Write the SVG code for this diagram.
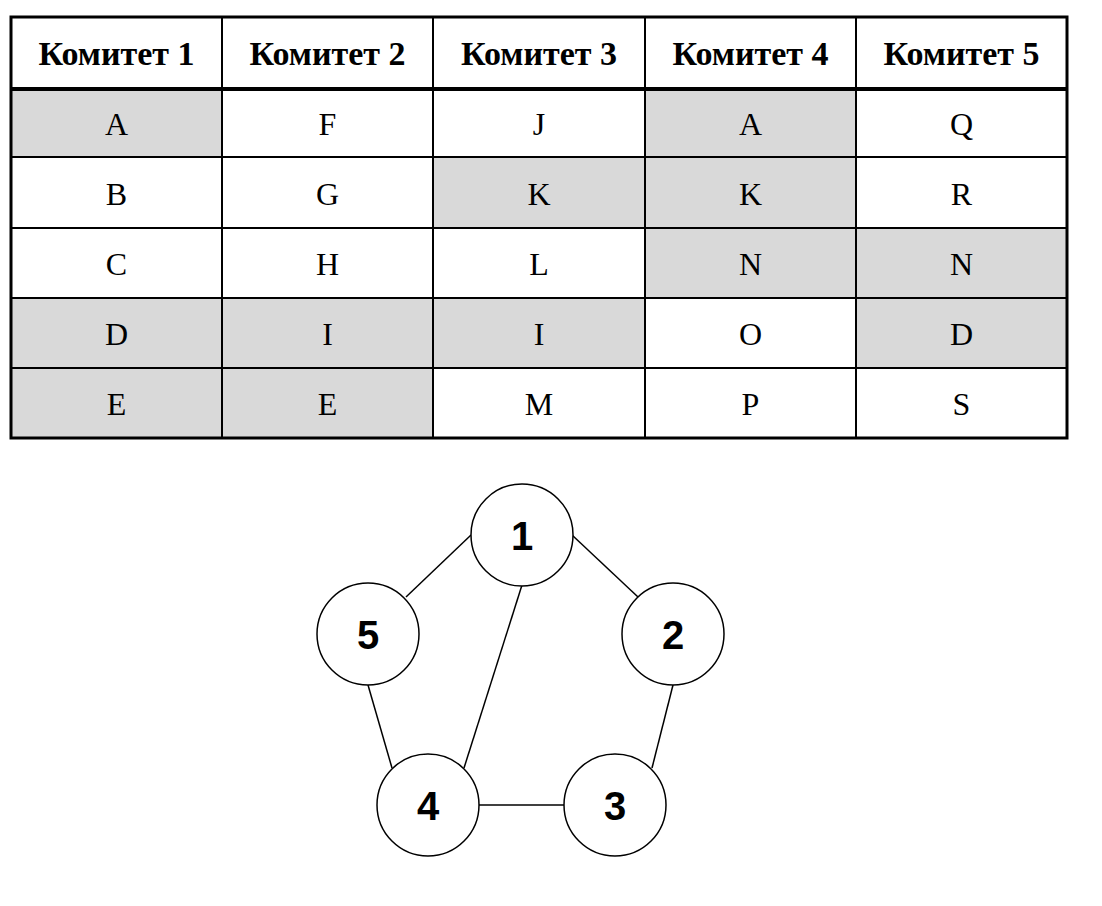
<svg xmlns="http://www.w3.org/2000/svg" width="1102" height="906" viewBox="0 0 1102 906">
<style>
.bg{fill:#ffffff}
.sh{fill:#d9d9d9}
.ln{stroke:#000;stroke-width:2;fill:none}
.hd{font-family:"Liberation Serif","Times New Roman",serif;font-weight:bold;font-size:34px;text-anchor:middle;fill:#000}
.cl{font-family:"Liberation Serif","Times New Roman",serif;font-size:32px;text-anchor:middle;fill:#000}
.nd{fill:#fff;stroke:#000;stroke-width:1.5}
.nl{font-family:"Liberation Sans",Arial,sans-serif;font-weight:bold;font-size:40px;text-anchor:middle;fill:#000}
.ed{stroke:#000;stroke-width:1.5}
</style>
<rect width="1102" height="906" class="bg"/>
<g id="table">
<g id="shading">
<rect class="sh" x="11" y="88" width="211" height="69"/>
<rect class="sh" x="645" y="88" width="211" height="69"/>
<rect class="sh" x="433" y="157" width="212" height="71"/>
<rect class="sh" x="645" y="157" width="211" height="71"/>
<rect class="sh" x="645" y="228" width="211" height="70"/>
<rect class="sh" x="856" y="228" width="211" height="70"/>
<rect class="sh" x="11" y="298" width="211" height="70"/>
<rect class="sh" x="222" y="298" width="211" height="70"/>
<rect class="sh" x="433" y="298" width="212" height="70"/>
<rect class="sh" x="856" y="298" width="211" height="70"/>
<rect class="sh" x="11" y="368" width="211" height="70"/>
<rect class="sh" x="222" y="368" width="211" height="70"/>
</g>
<g id="grid">
<line class="ln" x1="222" y1="17" x2="222" y2="438"/>
<line class="ln" x1="433" y1="17" x2="433" y2="438"/>
<line class="ln" x1="645" y1="17" x2="645" y2="438"/>
<line class="ln" x1="856" y1="17" x2="856" y2="438"/>
<line class="ln" x1="11" y1="157" x2="1067" y2="157"/>
<line class="ln" x1="11" y1="228" x2="1067" y2="228"/>
<line class="ln" x1="11" y1="298" x2="1067" y2="298"/>
<line class="ln" x1="11" y1="368" x2="1067" y2="368"/>
<line x1="11" y1="89" x2="1067" y2="89" stroke="#000" stroke-width="4"/>
<rect x="11" y="17" width="1056" height="421" fill="none" stroke="#000" stroke-width="3"/>
</g>
<g id="header">
<text class="hd" x="116.5" y="65">Комитет 1</text>
<text class="hd" x="327.5" y="65">Комитет 2</text>
<text class="hd" x="539" y="65">Комитет 3</text>
<text class="hd" x="750.5" y="65">Комитет 4</text>
<text class="hd" x="961.5" y="65">Комитет 5</text>
</g>
<g id="cells">
<text class="cl" x="116.5" y="135">A</text>
<text class="cl" x="327.5" y="135">F</text>
<text class="cl" x="539" y="135">J</text>
<text class="cl" x="750.5" y="135">A</text>
<text class="cl" x="961.5" y="135">Q</text>
<text class="cl" x="116.5" y="205">B</text>
<text class="cl" x="327.5" y="205">G</text>
<text class="cl" x="539" y="205">K</text>
<text class="cl" x="750.5" y="205">K</text>
<text class="cl" x="961.5" y="205">R</text>
<text class="cl" x="116.5" y="275">C</text>
<text class="cl" x="327.5" y="275">H</text>
<text class="cl" x="539" y="275">L</text>
<text class="cl" x="750.5" y="275">N</text>
<text class="cl" x="961.5" y="275">N</text>
<text class="cl" x="116.5" y="345">D</text>
<text class="cl" x="327.5" y="345">I</text>
<text class="cl" x="539" y="345">I</text>
<text class="cl" x="750.5" y="345">O</text>
<text class="cl" x="961.5" y="345">D</text>
<text class="cl" x="116.5" y="415">E</text>
<text class="cl" x="327.5" y="415">E</text>
<text class="cl" x="539" y="415">M</text>
<text class="cl" x="750.5" y="415">P</text>
<text class="cl" x="961.5" y="415">S</text>
</g>
</g>
<g id="connectors">
<line class="ed" x1="471" y1="535" x2="406" y2="597"/>
<line class="ed" x1="572" y1="535" x2="638" y2="597"/>
<line class="ed" x1="522" y1="585" x2="464" y2="768"/>
<line class="ed" x1="368" y1="685" x2="392" y2="768"/>
<line class="ed" x1="673" y1="685" x2="652" y2="768"/>
<line class="ed" x1="479" y1="805" x2="565" y2="805"/>
</g>
<g id="node1"><circle class="nd" cx="522" cy="535" r="51"/><text class="nl" x="522" y="550">1</text></g>
<g id="node2"><circle class="nd" cx="673" cy="634" r="51"/><text class="nl" x="673" y="649">2</text></g>
<g id="node3"><circle class="nd" cx="615" cy="805" r="51"/><text class="nl" x="615" y="820">3</text></g>
<g id="node4"><circle class="nd" cx="428" cy="805" r="51"/><text class="nl" x="428" y="820">4</text></g>
<g id="node5"><circle class="nd" cx="368" cy="634" r="51"/><text class="nl" x="368" y="649">5</text></g>
</svg>
